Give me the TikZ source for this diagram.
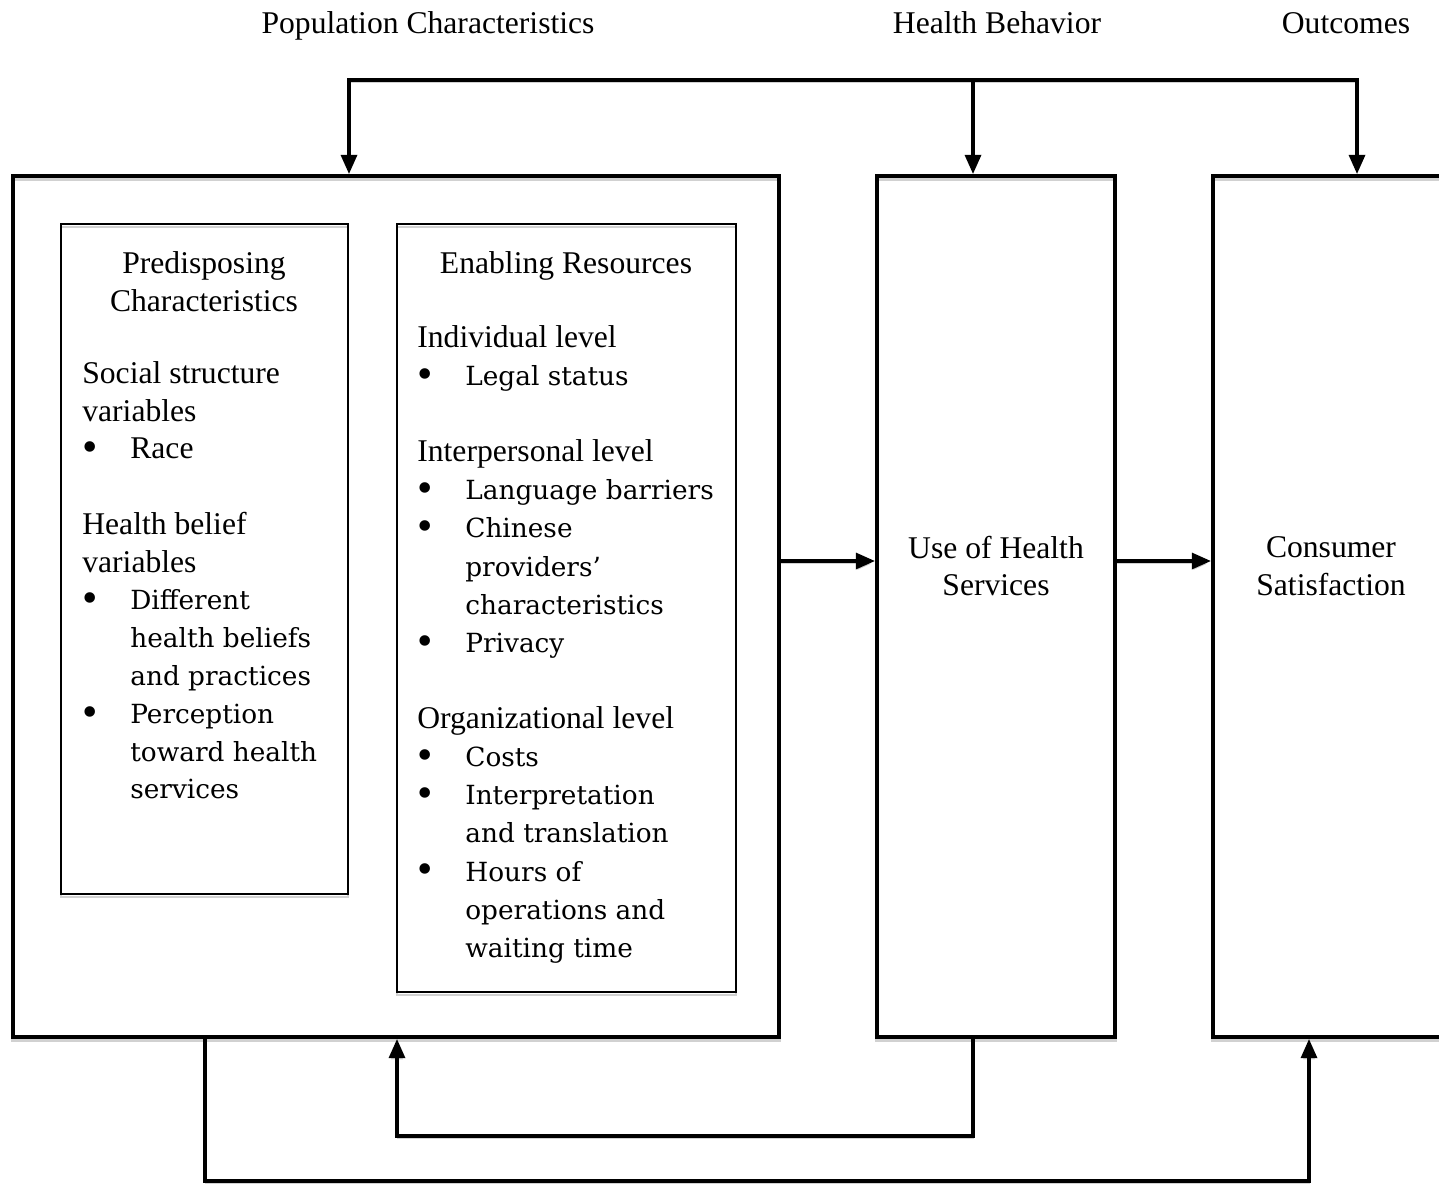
\documentclass[tikz,border=0pt]{standalone}
\usepackage{fontspec}
\setmainfont{Liberation Serif}
\newfontfamily\itemfont{DejaVu Serif}
\usetikzlibrary{positioning, arrows.meta, calc}

\newcommand{\bul}{\makebox[0.96cm][l]{\smash{\raisebox{-1.6pt}{\fontsize{25pt}{21.5pt}\selectfont\textbullet}}}}
\newcommand{\ind}{\hspace*{0.96cm}}
\newcommand{\itx}[1]{{\itemfont\fontsize{15pt}{21.5pt}\selectfont #1}}

\begin{document}
\begin{tikzpicture}[x=0.02cm, y=-0.02cm,
		        every node/.style={font=\fontsize{18pt}{21.5pt}\selectfont},
		        outerbox/.style={draw, line width=2.2pt, minimum height=17.22cm, inner sep=0pt},
		        innerbox/.style={draw, line width=1.1pt, inner sep=0pt},
		        listtext/.style={align=left, anchor=north west, inner sep=0pt},
		        shadowed/.style={preaction={draw=black!18, transform canvas={yshift=-1.6pt}}},
		        conn/.style={line width=2.2pt},
		        >={Triangle[length=11pt, width=9pt]}]
		        \useasboundingbox (0,0) rectangle (1439,1183);
		        
		        % Column titles
		        \node (popt) [anchor=base] at (428,33) {Population Characteristics};
		        \node (beht) [anchor=base] at (997,33) {Health Behavior};
		        \node (outt) [anchor=base] at (1346,33) {Outcomes};
		        
		        % Boxes
		        \node (pop) [outerbox, shadowed, minimum width=15.32cm] at (396,606.5) {};
		        \node (pred) [innerbox, shadowed, minimum width=5.74cm, minimum height=13.4cm] at (204.5,559) {};
		        \node (enab) [innerbox, shadowed, minimum width=6.78cm, minimum height=15.36cm] at (566.5,608) {};
		        \node (use) [outerbox, shadowed, minimum width=4.76cm] at (996,606.5) {};
		        \node (cons) [outerbox, shadowed, minimum width=5.04cm] at (1339,606.5) {};
		        
		        % Box texts
		        \node (predhead) [align=center] at (204,282) {Predisposing\\Characteristics};
		        \node (predlist) [listtext] at (82,361) {Social structure\\
		            variables\\
		            \bul Race\\[21.5pt]
		            Health belief\\
		            variables\\
		            \bul\itx{Different}\\
		            \ind\itx{health beliefs}\\
		            \ind\itx{and practices}\\
		            \bul\itx{Perception}\\
		            \ind\itx{toward health}\\
		            \ind\itx{services}};
		        \node (enabhead) at (566,266) {Enabling Resources};
		        \node (enablist) [listtext, font=\fontsize{18pt}{21.7pt}\selectfont] at (417,325) {Individual level\\
		            \bul\itx{Legal status}\\[21.7pt]
		            Interpersonal level\\
		            \bul\itx{Language barriers}\\
		            \bul\itx{Chinese}\\
		            \ind\itx{providers’}\\
		            \ind\itx{characteristics}\\
		            \bul\itx{Privacy}\\[21.7pt]
		            Organizational level\\
		            \bul\itx{Costs}\\
		            \bul\itx{Interpretation}\\
		            \ind\itx{and translation}\\
		            \bul\itx{Hours of}\\
		            \ind\itx{operations and}\\
		            \ind\itx{waiting time}};
		        \node (usetxt) [align=center] at (996,566) {Use of Health\\Services};
		        \node (constxt) [align=center] at (1331,566) {Consumer\\Satisfaction};
		        
		        % Connections
		        \coordinate (tl) at (349,80);
		        \coordinate (tm) at (973,80);
		        \coordinate (tr) at (1357,80);
		        \coordinate (mid) at (0,561);
		        \coordinate (b1) at (973,1136);
		        \coordinate (b2) at (397,1136);
		        \coordinate (c1) at (205,1181);
		        \coordinate (c2) at (1309,1181);
		        
		        \draw[conn, shadowed, <->] (tl |- pop.north) -- (tl) -- (tr) -- (tr |- cons.north);
		        \draw[conn, shadowed, ->] (tm) -- (tm |- use.north);
		        \draw[conn, shadowed, ->] (pop.east |- mid) -- (use.west |- mid);
		        \draw[conn, shadowed, ->] (use.east |- mid) -- (cons.west |- mid);
		        \draw[conn, shadowed, ->] (b1 |- use.south) -- (b1) -- (b2) -- (b2 |- pop.south);
		        \draw[conn, shadowed, ->] (c1 |- pop.south) -- (c1) -- (c2) -- (c2 |- cons.south);
		    \end{tikzpicture}
\end{document}
